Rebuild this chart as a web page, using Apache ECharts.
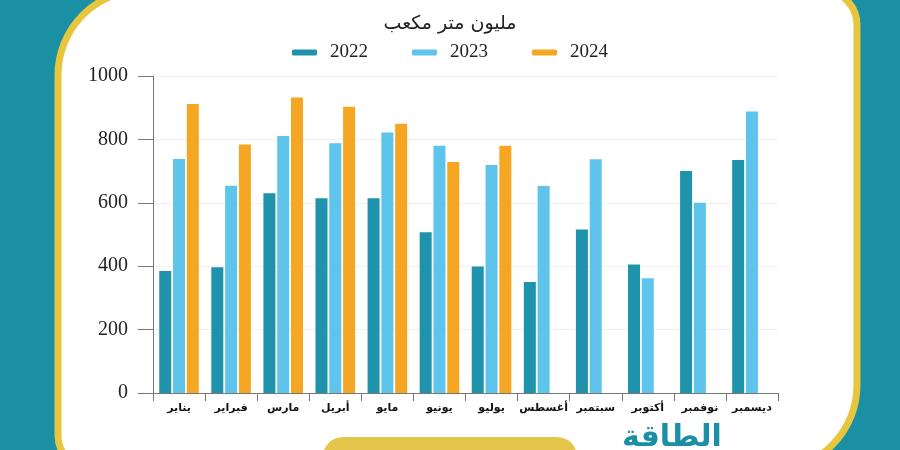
<!DOCTYPE html>
<html>
<head>
<meta charset="utf-8">
<script src="https://cdn.jsdelivr.net/npm/echarts@6/dist/echarts.min.js"></script>
<style>
    html,body{margin:0;padding:0;}
    #gasChart{width:900px;height:450px;}
</style>
</head>
<body>
<div id="gasChart"></div>
<script>
    var months = ["يناير","فبراير","مارس","أبريل","مايو","يونيو","يوليو","أغسطس","سبتمبر","أكتوبر","نوفمبر","ديسمبر"];
    var years = ["2022","2023","2024"];
    var data2022 = [385,397,630,614,614,507,399,350,516,405,700,735];
    var data2023 = [738,654,811,788,822,780,719,653,737,362,600,888];
    var data2024 = [912,784,932,903,849,729,780,null,null,null,null,null];
    var yTicks = [0,200,400,600,800,1000];

    var colors = ["#1e93ab","#5ec4ec","#f5a623"];
    var serif = "Liberation Serif";
    var arabic = "DejaVu Sans";

    var myChart = echarts.init(document.getElementById("gasChart"));

    var seriesList = [];
    var allData = [data2022,data2023,data2024];
    for(var i=0;i<years.length;i++){
        seriesList.push({
            name:years[i],
            type:'bar',
            barWidth:12,
            barGap:'15%',
            itemStyle:{color:colors[i]},
            data:allData[i]
        });
    }

    var option = {
        backgroundColor:"#1b8fa4",
        animation:false,
        graphic:[
            {
                type:'rect',
                z:-10,
                shape:{x:58,y:-10,width:799,height:480,r:[85,35,85,35]},
                style:{fill:"#ffffff",stroke:"#e7c63e",lineWidth:7}
            },
            {
                type:'rect',
                z:-5,
                shape:{x:323,y:437,width:254,height:40,r:20},
                style:{fill:"#e6c64a"}
            },
            {
                type:'text',
                z:-5,
                left:622,
                top:423,
                style:{text:"الطاقة",fill:"#1b8fa4",font:"bold 30px 'DejaVu Sans'"}
            }
        ],
        title:{
            text:"مليون متر مكعب",
            left:"center",
            top:10,
            textStyle:{fontFamily:arabic,fontSize:19,fontWeight:'normal',color:"#222"}
        },
        legend:{
            data:years,
            top:38,
            left:"center",
            itemWidth:25,
            itemHeight:6,
            itemGap:44,
            icon:'roundRect',
            textStyle:{fontFamily:serif,fontSize:19,color:"#222",padding:[0,0,0,8]}
        },
        grid:{left:153,right:122,top:76,bottom:57},
        xAxis:{
            type:'category',
            data:months,
            axisLine:{lineStyle:{color:"#777"}},
            axisTick:{show:true,length:8,lineStyle:{color:"#777"}},
            axisLabel:{interval:0,margin:10,fontFamily:arabic,fontWeight:'bold',fontSize:11,color:"#111"}
        },
        yAxis:{
            type:'value',
            min:0,
            max:1000,
            interval:200,
            axisLine:{show:true,lineStyle:{color:"#777"}},
            axisTick:{show:true,length:15,lineStyle:{color:"#777"}},
            axisLabel:{margin:25,fontFamily:serif,fontSize:20,color:"#222",
                formatter:function(v){ return yTicks.indexOf(v)>=0 ? String(v) : ""; }},
            splitLine:{lineStyle:{color:"#f1f1f1"}}
        },
        series:seriesList
    };
    myChart.setOption(option);
</script>
</body>
</html>
